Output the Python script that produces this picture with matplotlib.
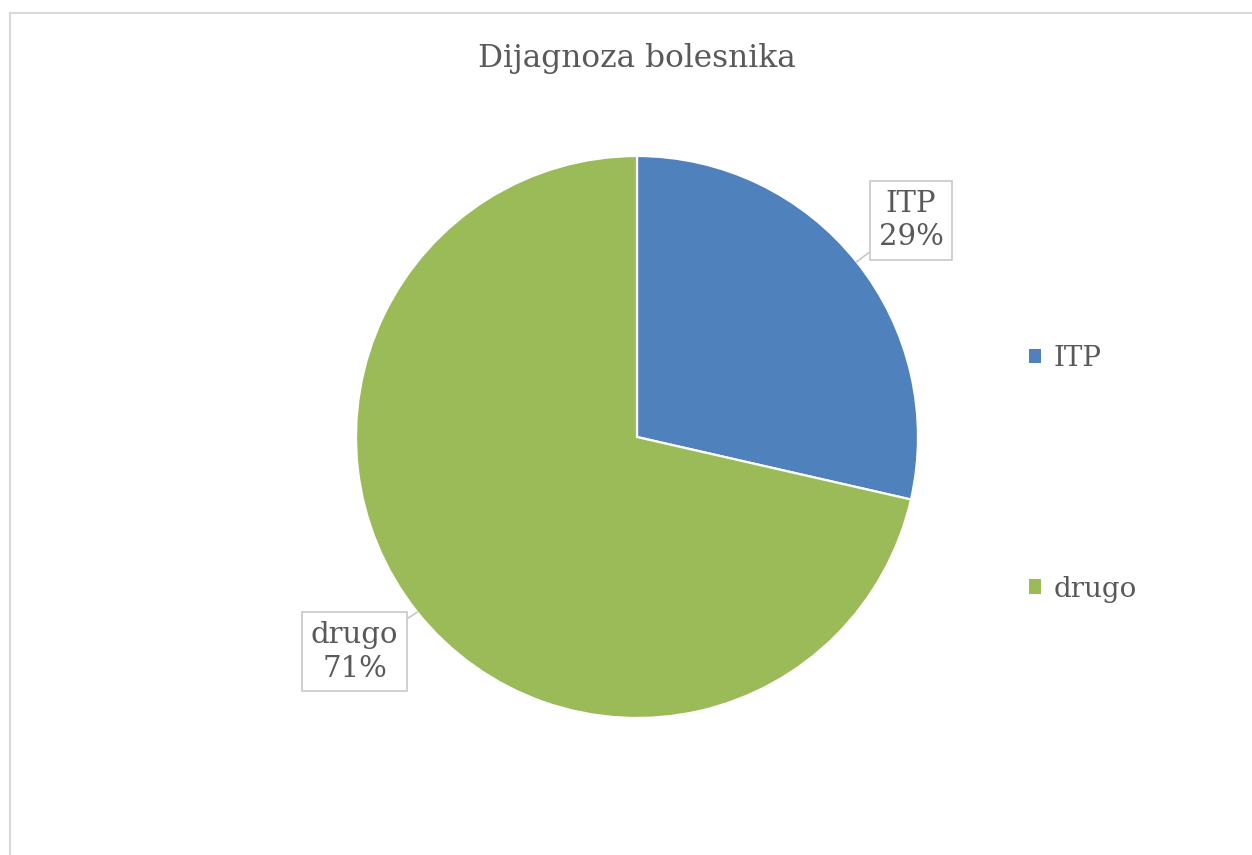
import numpy as np
import matplotlib
matplotlib.use('Agg')
import matplotlib.pyplot as plt
from matplotlib.lines import Line2D
from matplotlib.patches import Rectangle

# data
categories = ['ITP', 'drugo']
shares = [28.57, 71.43]
colors = ['#4F81BD', '#9BBB59']
title = 'Dijagnoza bolesnika'
# label box centres (in pie radii)
label_pos = [(0.975, 0.77), (-1.005, -0.765)]

plt.rcParams['font.family'] = ['DejaVu Serif']

W, H = 1252, 855
fig = plt.figure(figsize=(W / 100, H / 100), dpi=100)

# light chart frame (only top/left visible)
fig.add_artist(Line2D([9.5 / W, 9.5 / W], [0, 1 - 13 / H], transform=fig.transFigure,
                      color='#d9d9d9', lw=1.5))
fig.add_artist(Line2D([9.5 / W, 1], [1 - 13 / H, 1 - 13 / H], transform=fig.transFigure,
                      color='#d9d9d9', lw=1.5))

cx, cy, r = 637, 437, 281
half = 400
ax = fig.add_axes([(cx - half) / W, (H - cy - half) / H, 2 * half / W, 2 * half / H])
ax.axis('off')

wedges, _ = ax.pie(shares, colors=colors, startangle=90, counterclock=False, radius=1,
                   wedgeprops=dict(edgecolor='white', linewidth=1.6))
lim = half / r
ax.set_xlim(-lim, lim)
ax.set_ylim(-lim, lim)

total = sum(shares)
for w, cat, val, pos in zip(wedges, categories, shares, label_pos):
    mid = np.deg2rad((w.theta1 + w.theta2) / 2)
    tip = (np.cos(mid), np.sin(mid))
    ax.annotate(f'{cat}\n{round(val / total * 100)}%', xy=tip, xytext=pos,
                ha='center', va='center', fontsize=21, color='#595959',
                linespacing=1.25,
                bbox=dict(boxstyle='square,pad=0.3', fc='white', ec='#c8c8c8', lw=1.2),
                arrowprops=dict(arrowstyle='-', color='#c8c8c8', lw=1.2,
                                shrinkA=0, shrinkB=0))

fig.text(637 / W, 1 - 58 / H, title, ha='center', va='center', fontsize=22.5, color='#595959')

handles = [Rectangle((0, 0), 1, 1, fc=c, ec='none') for c in colors]
fig.legend(handles, categories, loc='upper left', bbox_to_anchor=(1004 / W, 1 - 320 / H),
           frameon=False, fontsize=20, labelcolor='#595959', handlelength=0.42,
           handleheight=0.42, handletextpad=0.45, labelspacing=7.33)

fig.savefig('out.png', dpi=100, facecolor='white')
